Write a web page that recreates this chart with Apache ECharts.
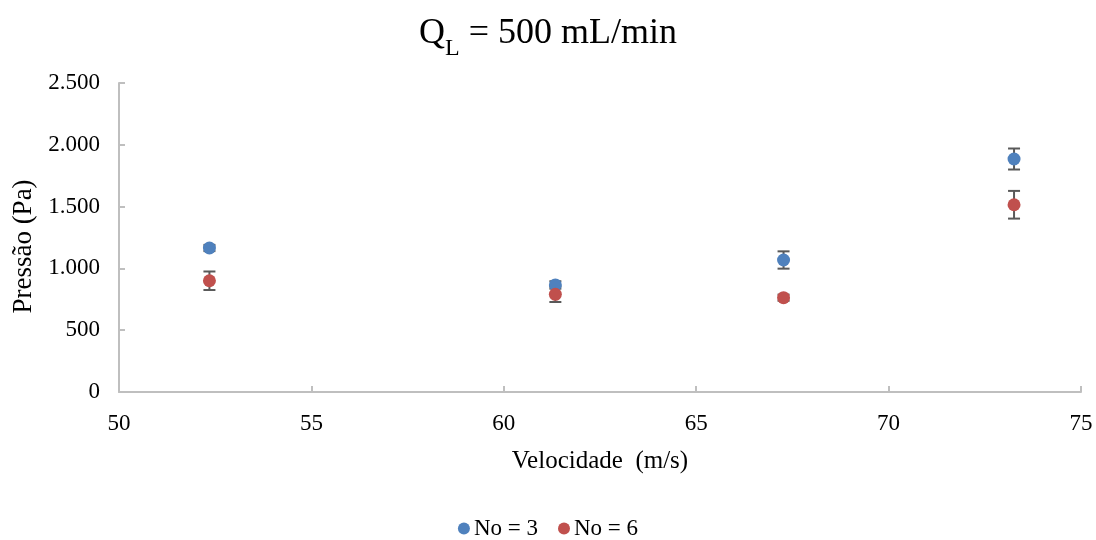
<!DOCTYPE html>
<html>
<head>
<meta charset="utf-8">
<script src="https://cdn.jsdelivr.net/npm/echarts@6/dist/echarts.min.js"></script>
<style>
    html, body { margin: 0; padding: 0; background: #fff; }
    #chart { width: 1096px; height: 540px; }
</style>
</head>
<body>
<div id="chart"></div>
<script>
// velocidade (m/s)
var velocidade = [52.35, 61.34, 67.27, 73.26];
// pressão (Pa) e desvio, No = 3
var pressaoNo3 = [1165, 866, 1068, 1885];
var erroNo3 = [25, 30, 70, 85];
// pressão (Pa) e desvio, No = 6
var pressaoNo6 = [900, 790, 763, 1515];
var erroNo6 = [75, 62, 25, 112];

var serif = '"Liberation Serif", "Times New Roman", serif';

function pontos(ys) {
    return velocidade.map(function (x, i) { return [x, ys[i]]; });
}
function barras(ys, es) {
    return velocidade.map(function (x, i) { return [x, ys[i] - es[i], ys[i] + es[i]]; });
}

// barra de erro com capuz
function desenhaErro(params, api) {
    var lo = api.coord([api.value(0), api.value(1)]);
    var hi = api.coord([api.value(0), api.value(2)]);
    var w = 6;
    var st = { stroke: '#595959', lineWidth: 2 };
    return {
        type: 'group',
        children: [
            { type: 'line', shape: { x1: lo[0], y1: lo[1], x2: hi[0], y2: hi[1] }, style: st },
            { type: 'line', shape: { x1: lo[0] - w, y1: lo[1], x2: lo[0] + w, y2: lo[1] }, style: st },
            { type: 'line', shape: { x1: hi[0] - w, y1: hi[1], x2: hi[0] + w, y2: hi[1] }, style: st }
        ]
    };
}

var chart = echarts.init(document.getElementById('chart'));
var option = {
    animation: false,
    title: {
        text: '{q|Q}{s|L}{q| = 500 mL/min}',
        left: 'center',
        top: 11,
        textStyle: {
            rich: {
                q: { fontFamily: serif, fontSize: 36, fontWeight: 'normal', color: '#000', verticalAlign: 'bottom' },
                s: { fontFamily: serif, fontSize: 24, fontWeight: 'normal', color: '#000', verticalAlign: 'bottom', padding: [0, 0, -9, 0] }
            }
        }
    },
    legend: {
        data: ['No = 3', 'No = 6'],
        bottom: -5,
        left: 'center',
        icon: 'circle',
        itemWidth: 12,
        itemHeight: 12,
        itemGap: 20,
        textStyle: { fontFamily: serif, fontSize: 23, color: '#000', padding: [0, 0, 0, -1] }
    },
    grid: { left: 119, right: 15, top: 83, bottom: 148 },
    xAxis: {
        type: 'value',
        min: 50, max: 75, interval: 5,
        name: 'Velocidade  (m/s)',
        nameLocation: 'middle',
        nameGap: 57,
        nameTextStyle: { fontFamily: serif, fontSize: 25, color: '#000' },
        axisLine: { lineStyle: { color: '#BFBFBF', width: 2 } },
        axisTick: { inside: true, length: 6, lineStyle: { color: '#BFBFBF', width: 2 } },
        axisLabel: { fontFamily: serif, fontSize: 23, color: '#000', margin: 20 },
        splitLine: { show: false }
    },
    yAxis: {
        type: 'value',
        min: 0, max: 2500, interval: 500,
        name: 'Pressão (Pa)',
        nameLocation: 'middle',
        nameGap: 80,
        nameTextStyle: { fontFamily: serif, fontSize: 27, color: '#000', padding: [0, 18, 0, 0] },
        axisLine: { show: true, lineStyle: { color: '#BFBFBF', width: 2 } },
        axisTick: { show: true, inside: true, length: 6, lineStyle: { color: '#BFBFBF', width: 2 } },
        axisLabel: {
            fontFamily: serif, fontSize: 23, color: '#000', margin: 19,
            formatter: function (v) {
                if (v < 1000) return String(v);
                var r = String(v % 1000);
                while (r.length < 3) r = '0' + r;
                return Math.floor(v / 1000) + '.' + r;
            }
        },
        splitLine: { show: false }
    },
    series: [
        {
            name: 'erro3', type: 'custom', renderItem: desenhaErro,
            data: barras(pressaoNo3, erroNo3), z: 1, silent: true
        },
        {
            name: 'erro6', type: 'custom', renderItem: desenhaErro,
            data: barras(pressaoNo6, erroNo6), z: 1, silent: true
        },
        {
            name: 'No = 3', type: 'scatter', symbolSize: 13,
            itemStyle: { color: '#4F81BD', opacity: 1 },
            data: pontos(pressaoNo3), z: 3
        },
        {
            name: 'No = 6', type: 'scatter', symbolSize: 13,
            itemStyle: { color: '#C0504D', opacity: 1 },
            data: pontos(pressaoNo6), z: 3
        }
    ]
};
chart.setOption(option);
</script>
</body>
</html>
